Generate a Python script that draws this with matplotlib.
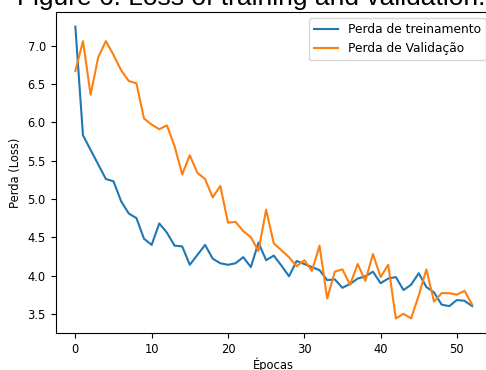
import matplotlib
matplotlib.use("Agg")
import matplotlib.pyplot as plt
import numpy as np

epochs = list(range(53))
train_loss = [7.25, 5.83, 5.64, 5.45, 5.26, 5.23, 4.97, 4.81, 4.75, 4.48,
              4.40, 4.68, 4.56, 4.39, 4.38, 4.14, 4.27, 4.40, 4.22, 4.16,
              4.14, 4.16, 4.24, 4.11, 4.43, 4.20, 4.26, 4.13, 3.99, 4.19,
              4.15, 4.11, 4.07, 3.94, 3.95, 3.84, 3.89, 3.96, 3.99, 4.05,
              3.90, 3.96, 3.98, 3.81, 3.88, 4.03, 3.85, 3.78, 3.62, 3.60,
              3.68, 3.67, 3.60]
val_loss = [6.67, 7.06, 6.36, 6.85, 7.06, 6.88, 6.68, 6.54, 6.51, 6.05,
            5.97, 5.91, 5.96, 5.69, 5.32, 5.57, 5.34, 5.26, 5.02, 5.17,
            4.69, 4.70, 4.58, 4.50, 4.32, 4.86, 4.42, 4.33, 4.24, 4.12,
            4.20, 4.06, 4.39, 3.70, 4.05, 4.08, 3.88, 4.15, 3.93, 4.28,
            3.98, 4.14, 3.44, 3.50, 3.44, 3.74, 4.08, 3.66, 3.77, 3.77,
            3.75, 3.80, 3.62]
train_label = "Perda de treinamento"
val_label = "Perda de Validação"
title_text = "Figure 6: Loss of training and validation."
x_label = "Épocas"
y_label = "Perda (Loss)"

FS = 8.3
plt.rcParams['font.size'] = FS

fig = plt.figure(figsize=(4.86, 3.70), dpi=100)
W, H = 486, 370
left, right, top, bottom = 55.5, 492.0, 12.0, 333.0
ax = fig.add_axes([left / W, (H - bottom) / H, (right - left) / W, (bottom - top) / H])

ax.plot(epochs, train_loss, color='#1f77b4', lw=1.5, label=train_label)
ax.plot(epochs, val_loss, color='#ff7f0e', lw=1.5, label=val_label)

ax.set_xticks([0, 10, 20, 30, 40, 50])
ax.set_yticks([3.5, 4.0, 4.5, 5.0, 5.5, 6.0, 6.5, 7.0])
ax.set_xlabel(x_label, fontsize=FS, labelpad=1.5)
ax.set_ylabel(y_label, fontsize=FS)
ax.tick_params(labelsize=FS)
ax.legend(loc='upper right', fontsize=8.8)

fig.text(17 / W, 1 - 5.5 / H, title_text, family='Liberation Sans', fontsize=19,
         ha='left', va='baseline')

fig.savefig("out.png", dpi=100)
